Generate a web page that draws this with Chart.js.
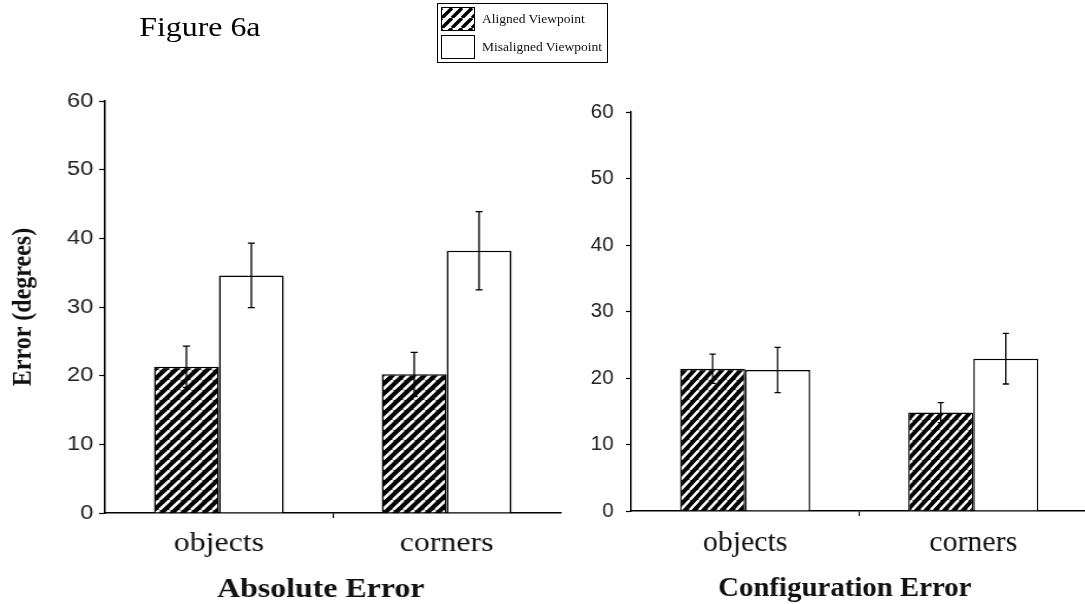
<!DOCTYPE html>
<html>
<head>
<meta charset="utf-8">
<script src="https://cdn.jsdelivr.net/npm/chart.js@4.4.1/dist/chart.umd.min.js"></script>
<style>
  html, body { margin: 0; padding: 0; background: #fff; overflow: hidden; width: 1085px; height: 604px; }
  /* each panel is laid out on its own stage and widened horizontally */
  .stage { position: absolute; top: 0; height: 604px; transform-origin: 0 0; }
  #stageL { left: 0; width: 520px; transform: scaleX(1.18); }
  #stageR { left: 560px; width: 512px; transform: scaleX(1.03); }
  .stage canvas { position: absolute; left: 0; top: 0; }
  #fig { position: absolute; left: 118px; top: 12px; font: 27px "Liberation Serif", serif; color: #000; }
  #legend { position: absolute; left: 437px; top: 3px; width: 171px; height: 60px; border: 1.5px solid #000;
            background: #fff; padding: 1px 0 0 3px; box-sizing: border-box;
            font: 13.5px "Liberation Serif", serif; color: #111; white-space: nowrap; }
  #legend .row { display: flex; align-items: center; height: 28px; }
  #legend canvas { border: 1.5px solid #000; margin-right: 7px; }
</style>
</head>
<body>
<div id="stageL" class="stage">
  <canvas id="left" width="520" height="604"></canvas>
  <div id="fig">Figure 6a</div>
</div>
<div id="stageR" class="stage">
  <canvas id="right" width="512" height="604"></canvas>
</div>
<div id="legend"></div>
<script>
// Categories and series
const categories = ['objects', 'corners'];
const seriesNames = ['Aligned Viewpoint', 'Misaligned Viewpoint'];

// Absolute Error panel: means and error-bar half lengths (degrees)
const absAligned = [21.3, 20.2];
const absAlignedErr = [3.0, 3.2];
const absMisaligned = [34.6, 38.2];
const absMisalignedErr = [4.7, 5.7];

// Configuration Error panel
const cfgAligned = [21.4, 14.8];
const cfgAlignedErr = [2.2, 1.5];
const cfgMisaligned = [21.2, 22.9];
const cfgMisalignedErr = [3.4, 3.8];

// y axis range
const yMin = 0, yMax = 60, yStep = 10;

// diagonal hatch pattern
function hatchPattern(g, w, h, ink, paper, lw) {
  const c = document.createElement('canvas');
  c.width = w; c.height = h;
  const t = c.getContext('2d');
  t.fillStyle = paper;
  t.fillRect(0, 0, w, h);
  t.strokeStyle = ink;
  t.lineWidth = lw;
  t.beginPath();
  for (let k = -1; k <= 1; k++) {
    t.moveTo(k * w, h);
    t.lineTo(k * w + w, 0);
  }
  t.stroke();
  return g.createPattern(c, 'repeat');
}
// white stripes on black for the aligned bars
const hatch = hatchPattern(document.createElement('canvas').getContext('2d'), 9, 10, '#fff', '#000', 2.6);

// whiskers with caps, drawn from each dataset's `errors` array
const errorBars = {
  id: 'errorBars',
  afterDatasetsDraw(chart) {
    const { ctx } = chart;
    const y = chart.scales.y;
    chart.data.datasets.forEach((ds, di) => {
      const meta = chart.getDatasetMeta(di);
      meta.data.forEach((bar, i) => {
        const v = ds.data[i], e = ds.errors[i];
        const yTop = y.getPixelForValue(v + e);
        const yBot = y.getPixelForValue(v - e);
        ctx.save();
        ctx.strokeStyle = '#000';
        ctx.lineWidth = 1.3;
        ctx.beginPath();
        ctx.moveTo(bar.x, yTop); ctx.lineTo(bar.x, yBot);
        ctx.moveTo(bar.x - 3, yTop); ctx.lineTo(bar.x + 3, yTop);
        ctx.moveTo(bar.x - 3, yBot); ctx.lineTo(bar.x + 3, yBot);
        ctx.stroke();
        ctx.restore();
      });
    });
  }
};

function panel(canvasId, o) {
  return new Chart(document.getElementById(canvasId), {
    type: 'bar',
    data: {
      labels: categories,
      datasets: [
        { label: seriesNames[0], data: o.aligned, errors: o.alignedErr,
          backgroundColor: hatch, borderColor: '#000', borderWidth: 1.5, borderSkipped: 'bottom' },
        { label: seriesNames[1], data: o.misaligned, errors: o.misalignedErr,
          backgroundColor: '#fff', borderColor: '#000', borderWidth: 1.5, borderSkipped: 'bottom' }
      ]
    },
    options: {
      responsive: false,
      animation: false,
      devicePixelRatio: 1,
      layout: { padding: o.padding },
      datasets: { bar: { categoryPercentage: 0.57, barPercentage: 1.0 } },
      plugins: { legend: { display: false }, tooltip: { enabled: false } },
      scales: {
        x: {
          grid: { drawOnChartArea: false, drawTicks: true, tickLength: 5, tickWidth: 1.2,
                  tickColor: c => (c.index === 1 ? '#000' : 'rgba(0,0,0,0)') },
          border: { display: true, color: '#000', width: 1.5 },
          ticks: { font: { family: 'Liberation Serif', size: o.xTickSize }, color: '#111', padding: 10 },
          title: { display: true, text: o.title, color: '#111',
                   font: { family: 'Liberation Serif', size: o.titleSize, weight: 'bold' },
                   padding: { top: 0, bottom: -2 } },
          afterFit: s => { s.height = o.xHeight; }
        },
        y: {
          min: yMin, max: yMax,
          ticks: { stepSize: yStep, font: { family: 'Liberation Sans', size: 20 }, color: '#222',
                   padding: o.yTickPad },
          grid: { drawOnChartArea: false, drawTicks: true, tickLength: 5, color: '#000', tickWidth: 1.2 },
          border: { display: true, color: '#000', width: 1.5 },
          title: { display: !!o.yTitle, text: o.yTitle || '', color: '#111',
                   font: { family: 'Liberation Serif', size: 24, weight: 'bold' },
                   padding: { top: 5, bottom: 0 } },
          afterFit: s => { s.width = o.yWidth; }
        }
      }
    },
    plugins: [errorBars]
  });
}

const leftChart = panel('left', {
  aligned: absAligned, alignedErr: absAlignedErr,
  misaligned: absMisaligned, misalignedErr: absMisalignedErr,
  title: 'Absolute Error\u00a0\u00a0\u00a0', yTitle: 'Error (degrees)',
  padding: { left: 0, top: 101, right: 45, bottom: 0 },
  xHeight: 91, yWidth: 89, yTickPad: 5, xTickSize: 27, titleSize: 27
});

panel('right', {
  aligned: cfgAligned, alignedErr: cfgAlignedErr,
  misaligned: cfgMisaligned, misalignedErr: cfgMisalignedErr,
  title: 'Configuration Error\u00a0\u00a0\u00a0\u00a0', yTitle: null,
  padding: { left: 0, top: 112, right: 0, bottom: 0 },
  xHeight: 93, yWidth: 69, yTickPad: 12, xTickSize: 29, titleSize: 28
});

// legend built from the dataset names and fills
const legend = document.getElementById('legend');
leftChart.data.datasets.forEach((ds, i) => {
  const row = document.createElement('div');
  row.className = 'row';
  const sw = document.createElement('canvas');
  sw.width = 32; sw.height = 22;
  const g = sw.getContext('2d');
  g.fillStyle = i === 0 ? hatchPattern(g, 10, 10, '#000', '#fff', 3.4) : ds.backgroundColor;
  g.fillRect(0, 0, sw.width, sw.height);
  const label = document.createElement('span');
  label.textContent = ds.label;
  row.appendChild(sw);
  row.appendChild(label);
  legend.appendChild(row);
});
</script>
</body>
</html>
